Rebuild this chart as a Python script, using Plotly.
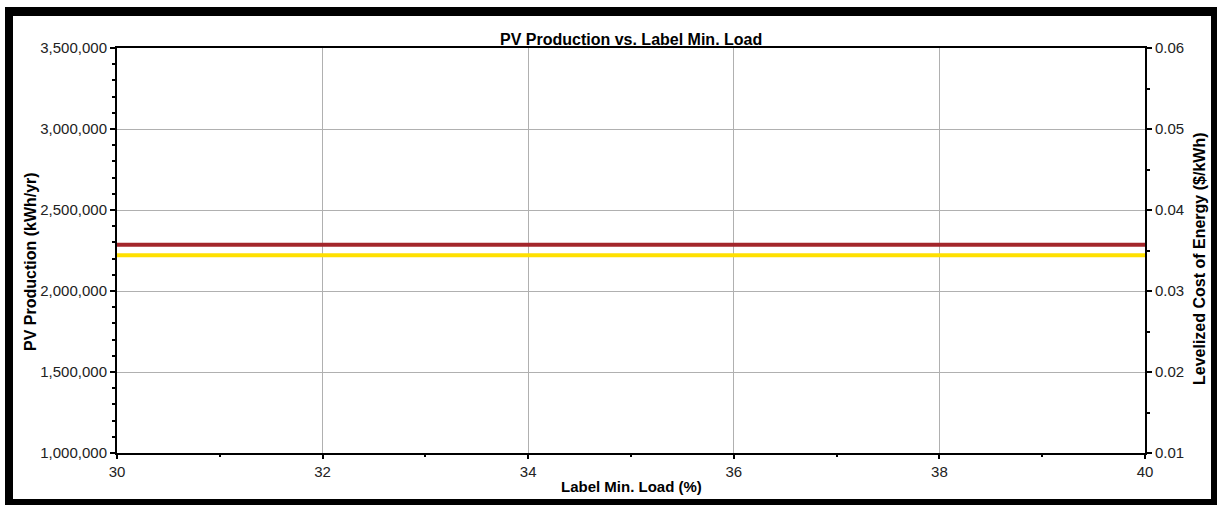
import plotly.graph_objects as go

# ---- data ----
label_min_load = [30, 40]                 # Label Min. Load (%)
pv_production = [2285000, 2285000]        # kWh/yr
levelized_coe = [0.0344, 0.0344]          # $/kWh

x_ticks = [30, 32, 34, 36, 38, 40]
y_left_ticks = [1000000, 1500000, 2000000, 2500000, 3000000, 3500000]
y_right_ticks = [0.01, 0.02, 0.03, 0.04, 0.05, 0.06]

W, H = 1221, 505
L, R, T, B = 117, 1145, 48, 453

def px(x):
    return (x - L) / (R - L)

def py(y):
    return (B - y) / (B - T)

FONT = "Liberation Sans, Arial, sans-serif"
TICK_COLOR = "#222222"

fig = go.Figure()
fig.add_trace(go.Scatter(x=label_min_load, y=pv_production, mode="lines",
                         line=dict(color="#A3262B", width=4), name="PV Production",
                         yaxis="y"))
fig.add_trace(go.Scatter(x=label_min_load, y=levelized_coe, mode="lines",
                         line=dict(color="#FFE000", width=4), name="Levelized COE",
                         yaxis="y2"))

axis_common = dict(showline=True, linecolor="black", linewidth=2, ticks="outside",
                   tickcolor="black", tickwidth=1.5,
                   tickfont=dict(family=FONT, size=15, color=TICK_COLOR),
                   zeroline=False, fixedrange=True)

fig.update_layout(
    width=W, height=H,
    margin=dict(l=L, r=W - R, t=T, b=H - B),
    paper_bgcolor="white", plot_bgcolor="white",
    showlegend=False,
    xaxis=dict(range=[30, 40], tickvals=x_ticks, ticktext=[str(v) for v in x_ticks],
               showgrid=True, gridcolor="#B0B0B0", gridwidth=1, mirror=True, ticklen=4,
               minor=dict(dtick=1, tick0=30, ticks="outside", ticklen=2, tickcolor="black",
                          showgrid=False),
               **axis_common),
    yaxis=dict(range=[1000000, 3500000], tickvals=y_left_ticks,
               ticktext=[f"{v:,}" for v in y_left_ticks], ticklen=5,
               showgrid=True, gridcolor="#B0B0B0", gridwidth=1,
               minor=dict(dtick=100000, tick0=1000000, ticks="outside", ticklen=3,
                          tickcolor="black", showgrid=False),
               **axis_common),
    yaxis2=dict(range=[0.01, 0.06], overlaying="y", side="right", tickvals=y_right_ticks,
                ticktext=[f"{v:.2f}" for v in y_right_ticks], showgrid=False, ticklen=5,
                minor=dict(dtick=0.005, tick0=0.01, ticks="outside", ticklen=3,
                           tickcolor="black", showgrid=False),
                **axis_common),
)

def label(text, x, y, size, angle=0):
    fig.add_annotation(text=text, xref="paper", yref="paper", x=px(x), y=py(y),
                       xanchor="center", yanchor="middle", showarrow=False,
                       textangle=angle, font=dict(family=FONT, size=size, color="black"))

label("<b>PV Production vs. Label Min. Load</b>", 631, 39, 16)
label("<b>Label Min. Load (%)</b>", 631, 486, 15)
label("<b>PV Production (kWh/yr)</b>", 30, 262, 16, -90)
label("<b>Levelized Cost of Energy ($/kWh)</b>", 1199, 259, 16, -90)

# outer black frame
frame = [(5, 7, 13, 505), (5, 7, 1217, 16), (1211, 7, 1217, 505), (5, 499, 1217, 505)]
for x0, y0, x1, y1 in frame:
    fig.add_shape(type="rect", xref="paper", yref="paper",
                  x0=px(x0), x1=px(x1), y0=py(y1), y1=py(y0),
                  fillcolor="black", line=dict(width=0), layer="above")

fig.write_html("out.html", config={"displayModeBar": False},
               post_script="document.body.style.margin='0';document.body.style.overflow='hidden';")
